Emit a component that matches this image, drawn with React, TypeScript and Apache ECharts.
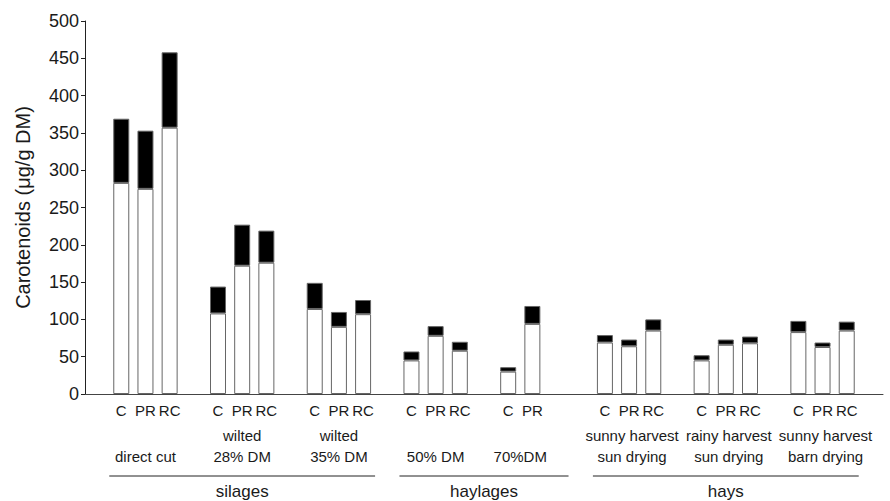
import React, { useEffect, useRef } from 'react';
import * as echarts from 'echarts';

// category slots (blank strings are gaps between groups)
const slotLabels = ['', 'C', 'PR', 'RC', '', 'C', 'PR', 'RC', '', 'C', 'PR', 'RC', '', 'C', 'PR', 'RC', '', 'C', 'PR', '', '', 'C', 'PR', 'RC', '', 'C', 'PR', 'RC', '', 'C', 'PR', 'RC', ''];
// lower (white) part of each bar
const whiteValues = ['-', 283, 275, 357, '-', 108, 172, 176, '-', 114, 90, 107, '-', 45, 78, 58, '-', 30, 94, '-', '-', 69, 64, 85, '-', 45, 66, 68, '-', 83, 63, 85, '-'];
// upper (black) part of each bar
const blackValues = ['-', 86, 78, 101, '-', 36, 55, 43, '-', 35, 20, 19, '-', 12, 13, 12, '-', 6, 24, '-', '-', 10, 9, 15, '-', 7, 7, 9, '-', 15, 6, 12, '-'];

const groupLine1 = ['', 'wilted', 'wilted', '', '', 'sunny harvest', 'rainy harvest', 'sunny harvest'];
const groupLine2 = ['direct cut', '28% DM', '35% DM', '50% DM', '70%DM', 'sun drying', 'sun drying', 'barn drying'];
const groupFirst = [1, 5, 9, 13, 17, 21, 25, 29];
const groupLast = [3, 7, 11, 15, 18, 23, 27, 31];

const sectionNames = ['silages', 'haylages', 'hays'];
const sectionFirst = [1, 13, 21];
const sectionLast = [11, 19, 31];

const FONT = '"Liberation Sans", Arial, sans-serif';
const TXT = '#1a1a1a';

export default function App() {
  const ref = useRef<HTMLDivElement>(null);
  useEffect(() => {
    if (!ref.current) return;
    const chart = echarts.init(ref.current, undefined, { renderer: 'svg' });
    chart.setOption({
      animation: false,
      backgroundColor: '#fff',
      textStyle: { fontFamily: FONT, color: TXT },
      grid: { left: 85, right: 7, top: 21, bottom: 107, containLabel: false },
      xAxis: {
        type: 'category',
        data: slotLabels,
        axisLine: { lineStyle: { color: '#444', width: 1 } },
        axisTick: { show: false },
        axisLabel: { interval: 0, fontSize: 15, color: TXT, margin: 9, fontFamily: FONT },
      },
      yAxis: {
        type: 'value',
        min: 0,
        max: 500,
        interval: 50,
        name: 'Carotenoids (μg/g DM)',
        nameLocation: 'middle',
        nameGap: 52,
        nameTextStyle: { fontSize: 20, color: TXT, fontFamily: FONT },
        axisLine: { show: true, lineStyle: { color: '#222', width: 1 } },
        axisTick: { show: true, length: 4, lineStyle: { color: '#222' } },
        axisLabel: { fontSize: 18, color: TXT, margin: 6, fontFamily: FONT },
        splitLine: { show: false },
      },
      series: [
        {
          type: 'bar',
          stack: 'total',
          barWidth: 16,
          data: whiteValues,
          itemStyle: { color: '#fff', borderColor: '#666', borderWidth: 1 },
        },
        {
          type: 'bar',
          stack: 'total',
          barWidth: 16,
          data: blackValues,
          itemStyle: { color: '#000', borderColor: '#666', borderWidth: 1 },
        },
      ],
    });

    const px = (i: number) => chart.convertToPixel({ xAxisIndex: 0 }, i) as number;
    const graphics: any[] = [];
    groupLine2.forEach((l2, g) => {
      const cx = (px(groupFirst[g]) + px(groupLast[g])) / 2 + (g >= 5 ? 3 : 0);
      if (groupLine1[g]) {
        graphics.push({
          type: 'text', x: cx, y: 435,
          style: { text: groupLine1[g], fontSize: 15, fontFamily: FONT, fill: TXT, textAlign: 'center', textVerticalAlign: 'middle' },
        });
      }
      graphics.push({
        type: 'text', x: cx, y: 456,
        style: { text: l2, fontSize: 15, fontFamily: FONT, fill: TXT, textAlign: 'center', textVerticalAlign: 'middle' },
      });
    });
    sectionNames.forEach((name, s) => {
      const x1 = px(sectionFirst[s]) - 12;
      const x2 = px(sectionLast[s]) + 12;
      graphics.push({
        type: 'line',
        shape: { x1, y1: 476, x2, y2: 476 },
        style: { stroke: '#222', lineWidth: 1 },
      });
      graphics.push({
        type: 'text', x: (x1 + x2) / 2, y: 491,
        style: { text: name, fontSize: 17, fontFamily: FONT, fill: TXT, textAlign: 'center', textVerticalAlign: 'middle' },
      });
    });
    chart.setOption({ graphic: graphics });

    return () => chart.dispose();
  }, []);
  return <div ref={ref} style={{ width: 890, height: 501, position: 'absolute', left: 0, top: 0 }} />;
}
